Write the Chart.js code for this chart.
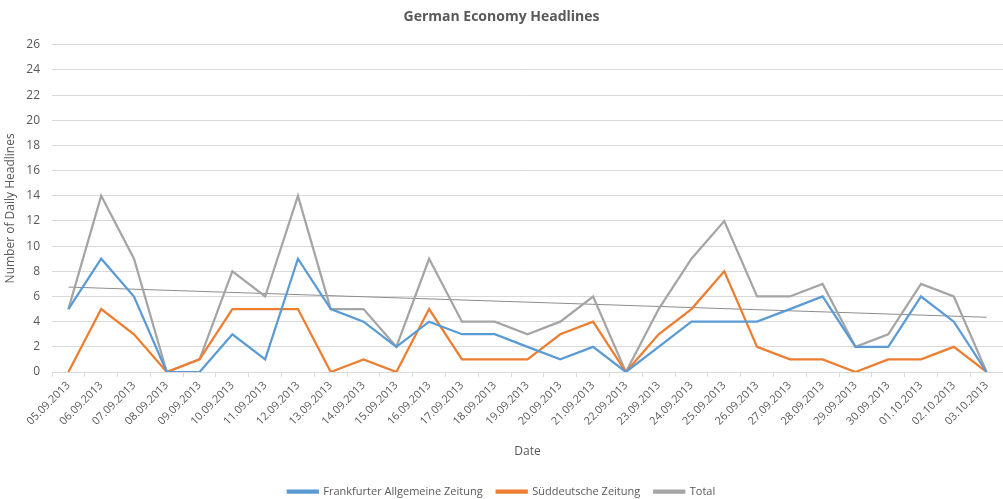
<!DOCTYPE html>
<html>
<head>
<meta charset="utf-8">
<script src="https://cdn.jsdelivr.net/npm/chart.js@4"></script>
<style>
  html, body { margin: 0; padding: 0; background: #fff; }
  #wrap { width: 1003px; height: 499px; }
</style>
</head>
<body>
<div id="wrap"><canvas id="chart" width="1003" height="499"></canvas></div>
<script>
const dates = ['05.09.2013', '06.09.2013', '07.09.2013', '08.09.2013', '09.09.2013', '10.09.2013',
  '11.09.2013', '12.09.2013', '13.09.2013', '14.09.2013', '15.09.2013', '16.09.2013', '17.09.2013',
  '18.09.2013', '19.09.2013', '20.09.2013', '21.09.2013', '22.09.2013', '23.09.2013', '24.09.2013',
  '25.09.2013', '26.09.2013', '27.09.2013', '28.09.2013', '29.09.2013', '30.09.2013', '01.10.2013',
  '02.10.2013', '03.10.2013'];
const faz = [5, 9, 6, 0, 0, 3, 1, 9, 5, 4, 2, 4, 3, 3, 2, 1, 2, 0, 2, 4, 4, 4, 5, 6, 2, 2, 6, 4, 0];
const sz = [0, 5, 3, 0, 1, 5, 5, 5, 0, 1, 0, 5, 1, 1, 1, 3, 4, 0, 3, 5, 8, 2, 1, 1, 0, 1, 1, 2, 0];
const total = [5, 14, 9, 0, 1, 8, 6, 14, 5, 5, 2, 9, 4, 4, 3, 4, 6, 0, 5, 9, 12, 6, 6, 7, 2, 3, 7, 6, 0];
// trendline end points
const trendStart = 6.75;
const trendEnd = 4.35;

const trend = dates.map((d, i) => i === 0 ? trendStart : (i === dates.length - 1 ? trendEnd : null));

const textColor = '#595959';
const fontFamily = "'Open Sans', 'Liberation Sans', sans-serif";

// nudge the legend a little lower, like the original
const legendShift = {
  id: 'legendShift',
  afterLayout(chart) {
    const lg = chart.legend;
    if (!lg) return;
    lg.top += 8;
    lg.bottom += 8;
    (lg.legendHitBoxes || []).forEach((b) => { b.top += 8; });
  }
};

new Chart(document.getElementById('chart'), {
  type: 'line',
  data: {
    labels: dates,
    datasets: [
      { label: 'Frankfurter Allgemeine Zeitung', data: faz, borderColor: '#5b9bd5', backgroundColor: '#5b9bd5', borderWidth: 2.25, pointRadius: 0, tension: 0 },
      { label: 'Süddeutsche Zeitung', data: sz, borderColor: '#ed7d31', backgroundColor: '#ed7d31', borderWidth: 2.25, pointRadius: 0, tension: 0 },
      { label: 'Total', data: total, borderColor: '#a5a5a5', backgroundColor: '#a5a5a5', borderWidth: 2.25, pointRadius: 0, tension: 0 },
      { label: 'trend', data: trend, borderColor: '#8c8c8c', borderWidth: 1, pointRadius: 0, spanGaps: true }
    ]
  },
  plugins: [legendShift],
  options: {
    responsive: false,
    animation: false,
    layout: { padding: { left: 0, right: 0, top: 0, bottom: 0 } },
    plugins: {
      title: {
        display: true,
        text: 'German Economy Headlines',
        color: textColor,
        font: { family: fontFamily, size: 14, weight: 'bold' },
        padding: { top: 9, bottom: 19 }
      },
      legend: {
        position: 'bottom',
        labels: {
          color: textColor,
          font: { family: fontFamily, size: 11 },
          boxWidth: 30,
          boxHeight: 2,
          padding: 14,
          filter: (item) => item.text !== 'trend'
        }
      },
      tooltip: { enabled: false }
    },
    scales: {
      x: {
        offset: true,
        grid: { offset: true, drawOnChartArea: false, color: '#d9d9d9', tickLength: 5 },
        border: { color: '#d9d9d9' },
        ticks: {
          color: textColor,
          font: { family: fontFamily, size: 11 },
          minRotation: 45,
          maxRotation: 45,
          autoSkip: false,
          padding: 2
        },
        title: {
          display: true,
          text: 'Date',
          color: textColor,
          font: { family: fontFamily, size: 12 },
          padding: { top: 6, bottom: 5 }
        },
        afterFit: (scale) => { scale.height = 92; }
      },
      y: {
        min: 0,
        max: 26,
        grid: { color: '#d9d9d9', drawTicks: false },
        border: { display: false },
        ticks: {
          stepSize: 2,
          color: textColor,
          font: { family: fontFamily, size: 12 },
          padding: 12
        },
        title: {
          display: true,
          text: 'Number of Daily Headlines',
          color: textColor,
          font: { family: fontFamily, size: 12 },
          padding: { top: 3, bottom: 0 }
        },
        afterFit: (scale) => { scale.width = 52; }
      }
    }
  }
});
</script>
</body>
</html>
